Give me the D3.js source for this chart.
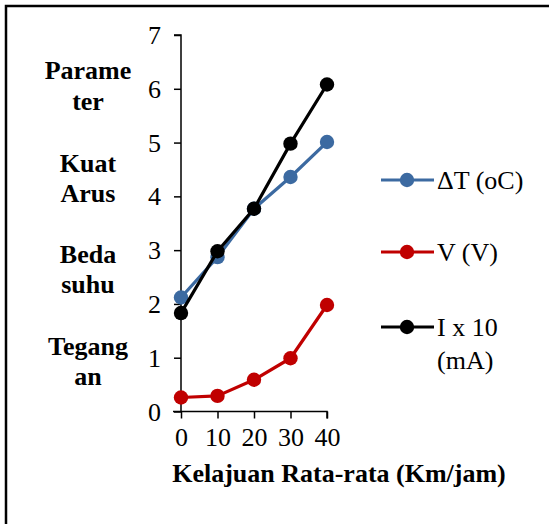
<!DOCTYPE html>
<html>
<head>
<meta charset="utf-8">
<script src="https://cdn.jsdelivr.net/npm/d3@7"></script>
<style>
  html, body { margin: 0; padding: 0; background: #fff; }
  svg { display: block; }
  text { font-family: "Liberation Serif", "Times New Roman", serif; fill: #000; }
</style>
</head>
<body>
<div id="chart"></div>
<script>
// ---- data ----
const categories = [0, 10, 20, 30, 40];
const deltaT = [2.12, 2.87, 3.77, 4.36, 5.01];
const voltage = [0.26, 0.29, 0.59, 0.99, 1.98];
const current = [1.83, 2.98, 3.77, 4.98, 6.08];
const seriesNames = ["\u0394T (oC)", "V (V)", "I x 10|(mA)"];
const seriesColors = ["#3C6AA1", "#C00000", "#000000"];
const yTicks = [0, 1, 2, 3, 4, 5, 6, 7];
const xTitle = "Kelajuan Rata-rata (Km/jam)";
const yTitleLines = ["Parame", "ter", "", "Kuat", "Arus", "", "Beda", "suhu", "", "Tegang", "an"];

const W = 549, H = 524;
const svg = d3.select("#chart").append("svg").attr("width", W).attr("height", H);
svg.append("rect").attr("width", W).attr("height", H).attr("fill", "#fff");
// frame (only left & top visible)
svg.append("rect").attr("x", 6).attr("y", 6).attr("width", W + 20).attr("height", H + 20)
  .attr("fill", "none").attr("stroke", "#000").attr("stroke-width", 2.5);

const x = d3.scaleLinear().domain([0, 40]).range([181, 327]);
const y = d3.scaleLinear().domain([0, 7]).range([411.5, 35]);

// y axis
const yAxis = svg.append("g").attr("transform", `translate(${x(0)},0)`)
  .call(d3.axisLeft(y).tickValues(yTicks).tickSize(7).tickPadding(13).tickFormat(d3.format("d")));
yAxis.select(".domain").attr("d", `M-7,${y(7)}H0V${y(0)}`);
yAxis.selectAll("text").attr("font-size", 26).attr("font-family", "Liberation Serif").attr("dy", "0.33em");

// x axis
const xAxis = svg.append("g").attr("transform", `translate(0,${y(0)})`)
  .call(d3.axisBottom(x).tickValues(categories).tickSize(7).tickPadding(9).tickFormat(d3.format("d")));
xAxis.select(".domain").attr("d", `M${x(0) - 8},0H${x(40)}V7`);
xAxis.selectAll("text").attr("font-size", 26).attr("font-family", "Liberation Serif");
svg.selectAll(".domain, .tick line").attr("stroke", "#000").attr("stroke-width", 1.5);

// x title
svg.append("text").attr("x", 339).attr("y", 482).attr("text-anchor", "middle")
  .attr("font-size", 26).attr("font-weight", "bold").text(xTitle);

// y title lines
const yTitleBase = [79, 110, null, 172, 202, null, 263, 293, null, 355, 385];
yTitleLines.forEach((t, i) => {
  if (!t) return;
  svg.append("text").attr("x", 88).attr("y", yTitleBase[i]).attr("text-anchor", "middle")
    .attr("font-size", 26).attr("font-weight", "bold").text(t);
});

// series
const allSeries = [deltaT, voltage, current];
const line = d3.line().x((d, i) => x(categories[i])).y(d => y(d));
allSeries.forEach((vals, s) => {
  const g = svg.append("g");
  g.append("path").attr("d", line(vals)).attr("fill", "none")
    .attr("stroke", seriesColors[s]).attr("stroke-width", 3.2).attr("stroke-linejoin", "round");
  g.selectAll("circle").data(vals).join("circle")
    .attr("cx", (d, i) => x(categories[i])).attr("cy", d => y(d)).attr("r", 7.2)
    .attr("fill", seriesColors[s]);
});

// legend
const legendY = [180, 252, 327];
seriesNames.forEach((name, s) => {
  const g = svg.append("g").attr("transform", `translate(0,${legendY[s]})`);
  g.append("line").attr("x1", 381).attr("x2", 434).attr("y1", 0).attr("y2", 0)
    .attr("stroke", seriesColors[s]).attr("stroke-width", 3.2);
  g.append("circle").attr("cx", 407).attr("cy", 0).attr("r", 7.2).attr("fill", seriesColors[s]);
  name.split("|").forEach((ln, k) => {
    g.append("text").attr("x", 437).attr("y", 8.5 + k * 33).attr("font-size", 26).text(ln);
  });
});
</script>
</body>
</html>
